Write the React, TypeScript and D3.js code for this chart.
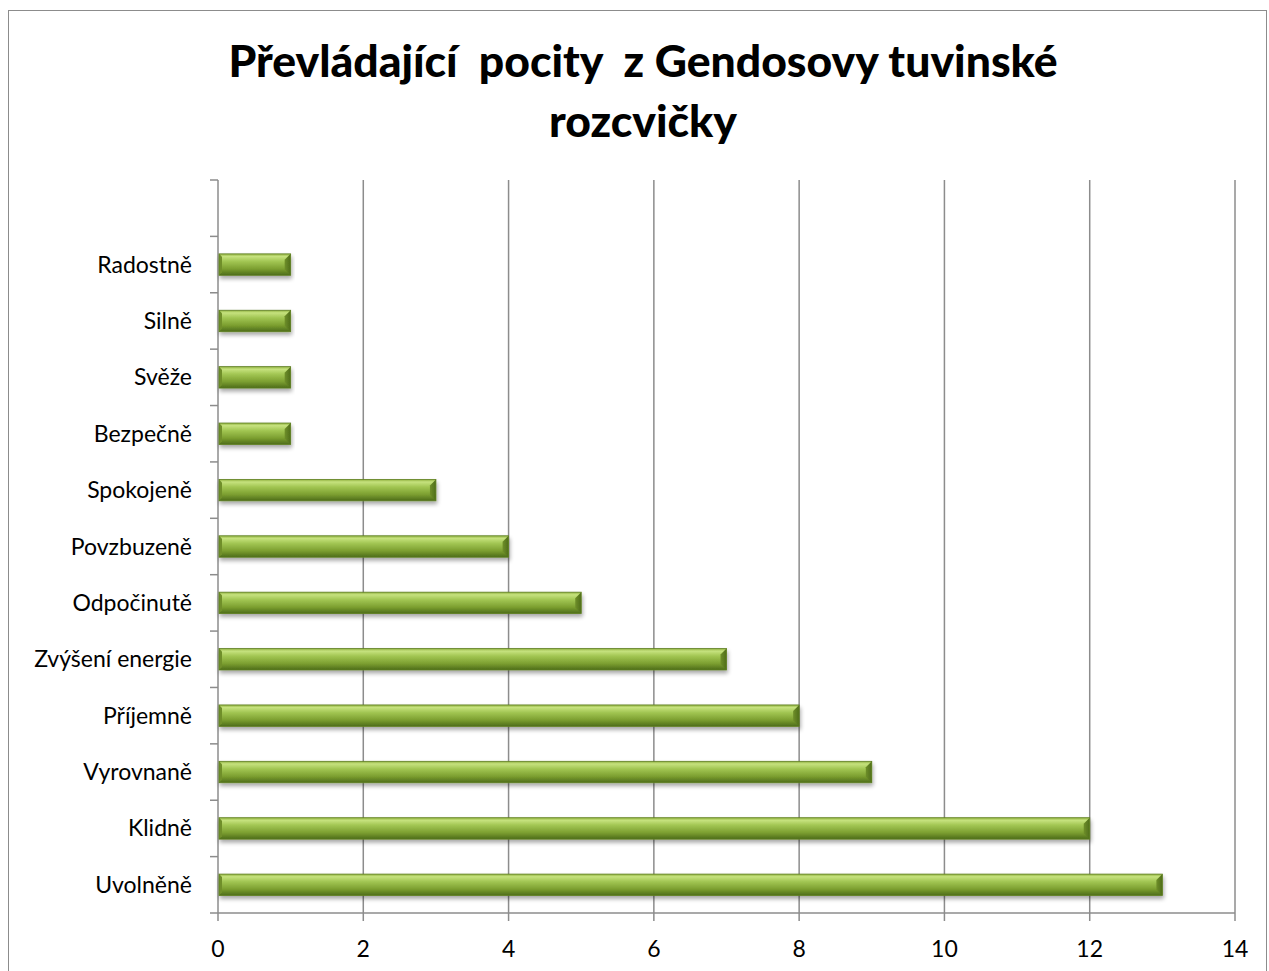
import React from 'react';
import * as d3 from 'd3';

// categories listed top to bottom; the first slot is empty in the original
const categories = ['', 'Radostně', 'Silně', 'Svěže', 'Bezpečně', 'Spokojeně', 'Povzbuzeně', 'Odpočinutě', 'Zvýšení energie', 'Příjemně', 'Vyrovnaně', 'Klidně', 'Uvolněně'];
const values = [null, 1, 1, 1, 1, 3, 4, 5, 7, 8, 9, 12, 13];
const xTicks = [0, 2, 4, 6, 8, 10, 12, 14];
const titleLines = ['Převládající  pocity  z Gendosovy tuvinské', 'rozcvičky'];

const W = 1269;
const H = 971;
const left = 218;
const right = 1235;
const top = 180;
const bottom = 913;
const font = 'Lato, "Noto Sans", sans-serif';

const App = () => {
  const x = d3.scaleLinear().domain([0, 14]).range([left, right]);
  const y = d3.scaleBand<string>()
    .domain(categories.map((c, i) => i + ':' + c))
    .range([top, bottom])
    .paddingInner(0.62)
    .paddingOuter(0.31);
  const step = y.step();
  const bh = y.bandwidth();

  return (
    <svg width={W} height={H} style={{ position: 'absolute', left: 0, top: 0 }} fontFamily={font}>
      <defs>
        <linearGradient id="barg" x1="0" y1="0" x2="0" y2="1">
          <stop offset="0" stopColor="#8fb03e" />
          <stop offset="0.12" stopColor="#c6e27e" />
          <stop offset="0.35" stopColor="#a2c653" />
          <stop offset="0.7" stopColor="#7c9f30" />
          <stop offset="1" stopColor="#4d6c1a" />
        </linearGradient>
        <linearGradient id="endg" x1="0" y1="0" x2="1" y2="0">
          <stop offset="0" stopColor="#6f8f2a" />
          <stop offset="1" stopColor="#4f6d1a" />
        </linearGradient>
        <filter id="shadow" x="-5%" y="-30%" width="110%" height="180%">
          <feGaussianBlur in="SourceAlpha" stdDeviation="2" />
          <feOffset dx="1" dy="3" result="b" />
          <feComponentTransfer><feFuncA type="linear" slope="0.35" /></feComponentTransfer>
          <feMerge><feMergeNode /><feMergeNode in="SourceGraphic" /></feMerge>
        </filter>
      </defs>
      <rect x={8.5} y={10.5} width={1258} height={970} fill="#fff" stroke="#8c8c8c" strokeWidth={1} />

      {titleLines.map((t, i) => (
        <text key={i} x={643} y={77 + i * 60} textAnchor="middle" fontSize={44.5} fontWeight="900" fill="#000" style={{ whiteSpace: 'pre' }}>{t}</text>
      ))}

      {/* vertical gridlines */}
      {xTicks.slice(1).map(t => (
        <line key={t} x1={x(t)} x2={x(t)} y1={top} y2={bottom} stroke="#8c8c8c" strokeWidth={1.5} />
      ))}

      {/* y axis */}
      <line x1={left} x2={left} y1={top} y2={bottom} stroke="#8c8c8c" strokeWidth={1.5} />
      {d3.range(categories.length + 1).map(i => (
        <line key={i} x1={left - 8} x2={left} y1={top + i * step} y2={top + i * step} stroke="#8c8c8c" strokeWidth={1.5} />
      ))}
      {/* x axis */}
      <line x1={left} x2={right} y1={bottom} y2={bottom} stroke="#8c8c8c" strokeWidth={1.5} />
      {xTicks.map(t => (
        <g key={t}>
          <line x1={x(t)} x2={x(t)} y1={bottom} y2={bottom + 8} stroke="#8c8c8c" strokeWidth={1.5} />
          <text x={x(t)} y={957} textAnchor="middle" fontSize={23} fill="#000">{t}</text>
        </g>
      ))}

      {/* bars */}
      {categories.map((c, i) => {
        const v = values[i];
        const yy = y(i + ':' + c)!;
        const x0 = x(0) + 1;
        const x1 = v == null ? x0 : x(v);
        const bev = 6;
        return (
          <g key={i}>
            {c && (
              <text x={192} y={yy + bh / 2 + 8} textAnchor="end" fontSize={23} fill="#000">{c}</text>
            )}
            {v != null && (
              <g filter="url(#shadow)">
                <rect x={x0} y={yy} width={x1 - x0} height={bh} fill="url(#barg)" />
                <polygon points={`${x1 - bev},${yy + bev} ${x1},${yy} ${x1},${yy + bh} ${x1 - bev},${yy + bh - bev}`} fill="url(#endg)" />
                <polygon points={`${x0},${yy} ${x0 + 3},${yy + 3} ${x0 + 3},${yy + bh - 3} ${x0},${yy + bh}`} fill="#6f8f2a" />
                <rect x={x0} y={yy} width={x1 - x0} height={bh} fill="none" stroke="#5f7f22" strokeWidth={0.8} />
              </g>
            )}
          </g>
        );
      })}
    </svg>
  );
};

export default App;
